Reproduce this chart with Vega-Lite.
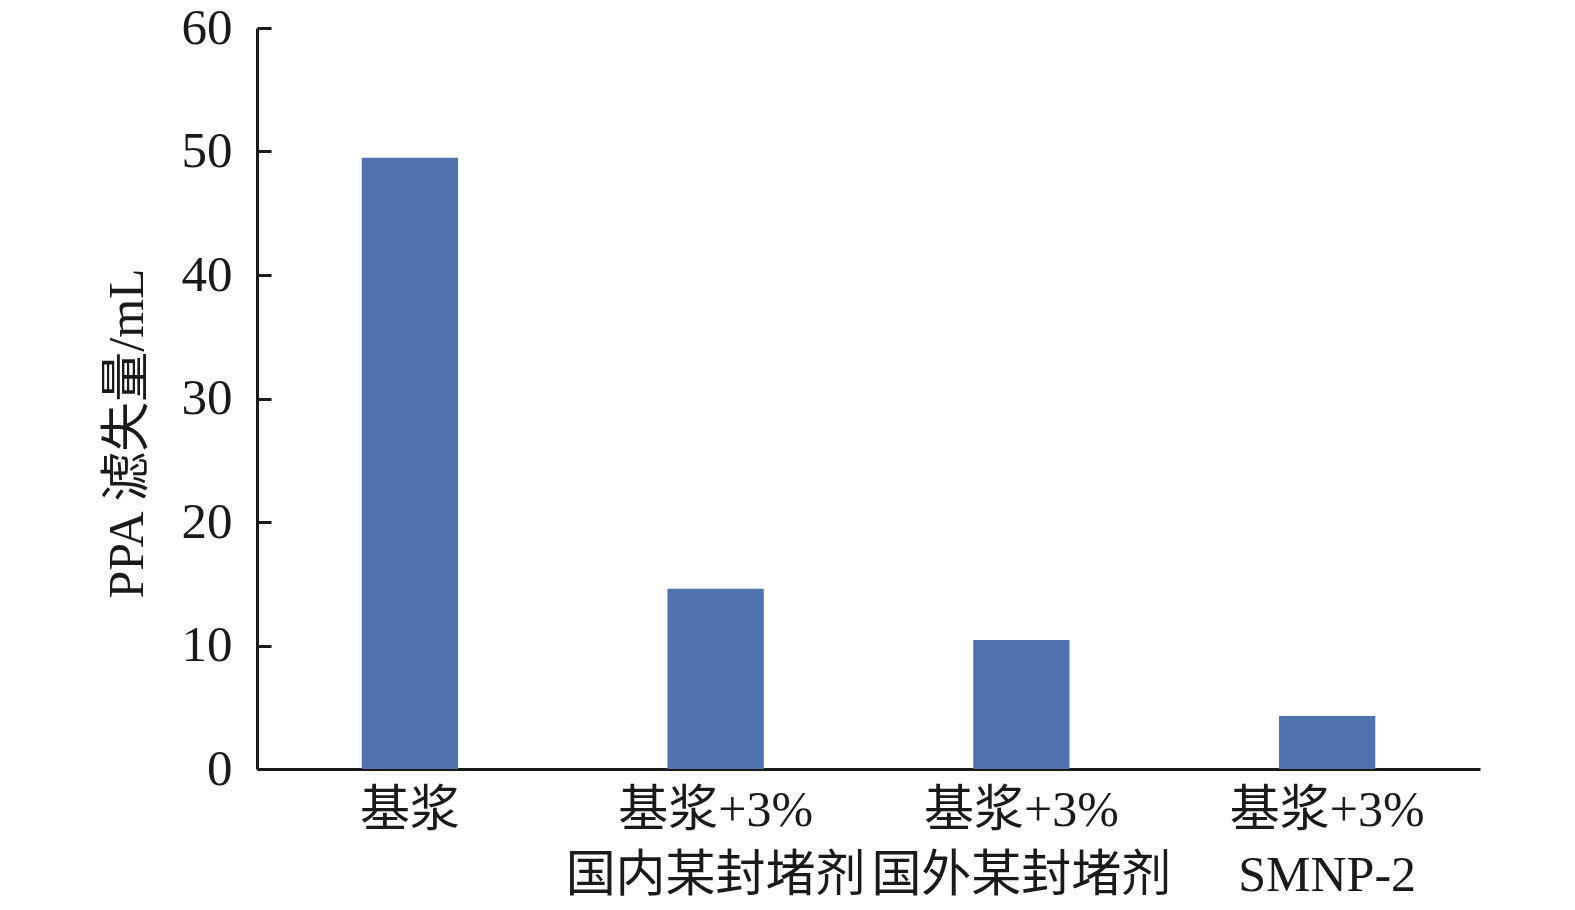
{
  "$schema": "https://vega.github.io/schema/vega-lite/v6.json",
  "autosize": {"type": "none"},
  "padding": {"left": 257, "top": 28, "right": 95, "bottom": 141},
  "width": 1223,
  "height": 741,
  "background": "white",
  "data": {
    "values": [
      {"sample": "基浆", "loss": 49.5},
      {"sample": "基浆+3%|国内某封堵剂", "loss": 14.6},
      {"sample": "基浆+3%|国外某封堵剂", "loss": 10.45},
      {"sample": "基浆+3%|SMNP-2", "loss": 4.3}
    ]
  },
  "mark": {"type": "bar", "color": "#5073ad"},
  "encoding": {
    "x": {
      "field": "sample",
      "type": "nominal",
      "sort": null,
      "scale": {"paddingInner": 0.685, "paddingOuter": 0.3425},
      "axis": {
        "title": null,
        "labelAngle": 0,
        "labelExpr": "split(datum.label, '|')",
        "labelFont": "Liberation Serif, Noto Sans CJK SC",
        "labelFontSize": 50,
        "labelLimit": 0,
        "labelColor": "#1a1a1a",
        "labelLineHeight": 65,
        "labelBaseline": "top",
        "labelPadding": 16,
        "ticks": false,
        "domainColor": "#1a1a1a",
        "domainWidth": 3,
        "grid": false
      }
    },
    "y": {
      "field": "loss",
      "type": "quantitative",
      "scale": {"domain": [0, 60]},
      "axis": {
        "title": "PPA 滤失量/mL",
        "titleFont": "Liberation Serif, Noto Sans CJK SC",
        "titleFontSize": 50,
        "titleFontWeight": "normal",
        "titleColor": "#1a1a1a",
        "titleX": -130,
        "titleY": 405,
        "titleAngle": -90,
        "titleAlign": "center",
        "titleBaseline": "middle",
        "titleLimit": 0,
        "values": [0, 10, 20, 30, 40, 50, 60],
        "labelFont": "Liberation Serif",
        "labelFontSize": 51,
        "labelColor": "#1a1a1a",
        "labelPadding": 39,
        "tickSize": -14,
        "tickWidth": 3,
        "tickColor": "#1a1a1a",
        "domainColor": "#1a1a1a",
        "domainWidth": 3,
        "grid": false
      }
    }
  },
  "config": {"view": {"stroke": null}}
}
